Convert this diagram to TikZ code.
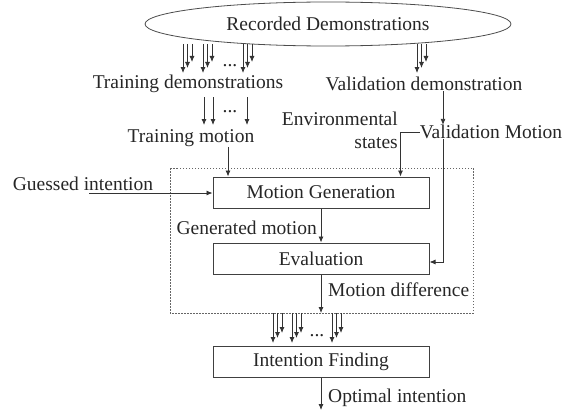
\documentclass[tikz,border=0pt]{standalone}
\usepackage{fontspec}
\setmainfont{Liberation Serif}
\usetikzlibrary{shapes}
\usetikzlibrary{arrows.meta}
\usetikzlibrary{positioning}

\begin{document}
\begin{tikzpicture}[x=1pt,y=-1pt,
    every node/.style={font=\fontsize{19.5}{23}\selectfont,text=black!85,inner sep=0pt},
    arr/.style={draw=black!80,line width=0.8pt,-{Latex[length=6pt,width=5pt]}},
    boxnode/.style={draw=black!75,line width=1pt,minimum width=216pt,minimum height=31pt},
    groupbox/.style={draw=black!60,line width=0.8pt,dash pattern=on 1.5pt off 1.5pt}]
  \useasboundingbox (0,0) rectangle (567,412);

  \node[ellipse,draw=black!70,line width=0.8pt,minimum width=366pt,minimum height=44pt] (recnode) at (328,24) {Recorded Demonstrations};
  \node (tdemnode) at (188,84) {Training demonstrations};
  \node (vdemnode) at (424,84) {Validation demonstration};
  \node (tmotnode) at (191,138) {Training motion};
  \node (vmotnode) at (491,132) {Validation Motion};
  \node[anchor=east,align=right] (envnode) at (398,130) {Environmental\\states};
  \node (guesnode) at (83,184) {Guessed intention};
  \coordinate (gin) at (89,193);

  \draw[groupbox] (170,168) rectangle (473,313);
  \node[boxnode] (mgnode) at (321,192.5) {Motion Generation};
  \node[boxnode] (evanode) at (321,258.5) {Evaluation};
  \node[boxnode] (ifnode) at (321,362) {Intention Finding};
  \node[anchor=east] (gmotnode) at (317,228) {Generated motion};
  \node[anchor=west] (mdifnode) at (328,290) {Motion difference};
  \node[anchor=west] (optnode) at (328,398) {Optimal intention};
  \coordinate (mdiff) at (321,313);
  \coordinate (optend) at (321,410);

  % demonstrations split
  \foreach \b in {183,203,243,417}
    \foreach \d/\e in {0/73,4.5/68,9/62}
      \draw[arr] (\b+\d,44) -- (\b+\d,\e);
  \node (dotsa) at (230,66) {...};
  \foreach \b in {204,213,247}
    \draw[arr] (\b,97) -- (\b,125);
  \node (dotsb) at (230,112) {...};

  \draw[arr] ([xshift=19pt]vdemnode.south) -- ([xshift=19pt]vdemnode.south |- vmotnode.north);
  \draw[arr] ([xshift=37pt]tmotnode.south) -- ([xshift=37pt]tmotnode.south |- mgnode.north);
  \draw[arr] (vmotnode.west) -| ([xshift=-29pt]mgnode.north east);
  \draw[arr] ([xshift=-48pt]vmotnode.south) |- ([yshift=-3.5pt]evanode.east);
  \draw[arr] (gin) -- (gin -| mgnode.west);
  \draw[arr] (mgnode) -- (evanode);
  \draw[arr] (evanode) -- (mdiff);

  % motion differences
  \foreach \b in {273,292,332}
    \foreach \d/\e in {0/343,4.5/338,9/333}
      \draw[arr] (\b+\d,313) -- (\b+\d,\e);
  \node (dotsc) at (317,336) {...};
  \draw[arr] (ifnode) -- (optend);
\end{tikzpicture}
\end{document}
